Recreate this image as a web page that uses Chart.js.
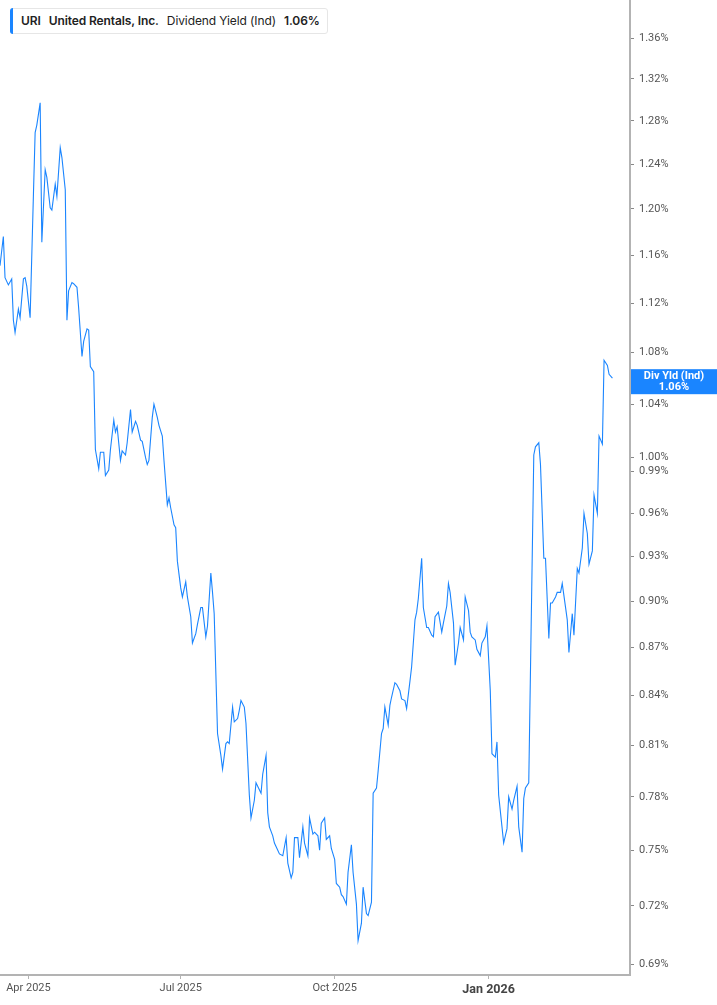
<!DOCTYPE html>
<html>
<head>
  <title>URI Dividend Yield</title>
  <script src="https://cdn.jsdelivr.net/npm/chart.js@4.4.0/dist/chart.umd.min.js"></script>
  <style>
    body { margin: 0; background: #fff; overflow: hidden; }
    #wrap { position: relative; width: 717px; height: 1005px; }
    .legend {
      position: absolute; left: 10px; top: 8px; height: 24px;
      padding: 0 7px 0 10px; border: 1px solid #e6e6e6; border-radius: 3px;
      font-family: Inter, "Liberation Sans", sans-serif; font-size: 12px; letter-spacing: -0.1px; color: #222;
      line-height: 24px; background: #fff; white-space: nowrap;
    }
    .legend:before {
      content: ""; position: absolute; left: -1px; top: -1px; bottom: -1px; width: 3px;
      background: #1a85ff; border-radius: 3px 0 0 3px;
    }
    .legend b { font-weight: 600; margin-right: 8px; }
    .legend span { margin-right: 8px; }
  </style>
</head>
<body>
<div id="wrap">
  <canvas id="yield" width="717" height="1005"></canvas>
  <div class="legend"><b>URI</b><b>United Rentals, Inc.</b><span>Dividend Yield (Ind)</span><b style="margin-right:0">1.06%</b></div>
</div>
<script>
  var dates = [
    '2025-03-15','2025-03-17','2025-03-18','2025-03-20','2025-03-22','2025-03-23','2025-03-24','2025-03-26','2025-03-27','2025-03-29','2025-03-30','2025-03-31',
    '2025-04-02','2025-04-04','2025-04-05','2025-04-06','2025-04-08','2025-04-09','2025-04-11','2025-04-12','2025-04-14','2025-04-15','2025-04-17','2025-04-18','2025-04-20','2025-04-21','2025-04-23','2025-04-24','2025-04-25','2025-04-27','2025-04-28','2025-04-30',
    '2025-05-01','2025-05-03','2025-05-04','2025-05-06','2025-05-07','2025-05-08','2025-05-10','2025-05-11','2025-05-13','2025-05-14','2025-05-16','2025-05-17','2025-05-19','2025-05-20','2025-05-22','2025-05-23','2025-05-24','2025-05-26','2025-05-27','2025-05-29','2025-05-30',
    '2025-06-01','2025-06-02','2025-06-04','2025-06-05','2025-06-07','2025-06-08','2025-06-10','2025-06-11','2025-06-12','2025-06-14','2025-06-15','2025-06-17','2025-06-18','2025-06-20','2025-06-21','2025-06-23','2025-06-24','2025-06-25','2025-06-27','2025-06-28','2025-06-29',
    '2025-07-01','2025-07-02','2025-07-04','2025-07-05','2025-07-07','2025-07-08','2025-07-10','2025-07-11','2025-07-13','2025-07-14','2025-07-16','2025-07-17','2025-07-19','2025-07-20','2025-07-21','2025-07-23','2025-07-25','2025-07-26','2025-07-28','2025-07-29','2025-07-30',
    '2025-08-01','2025-08-02','2025-08-04','2025-08-05','2025-08-06','2025-08-08','2025-08-09','2025-08-11','2025-08-12','2025-08-14','2025-08-15','2025-08-17','2025-08-18','2025-08-19','2025-08-21','2025-08-22','2025-08-23','2025-08-25','2025-08-26','2025-08-28','2025-08-29','2025-08-31',
    '2025-09-02','2025-09-03','2025-09-05','2025-09-06','2025-09-07','2025-09-09','2025-09-10','2025-09-12','2025-09-13','2025-09-15','2025-09-16','2025-09-18','2025-09-19','2025-09-21','2025-09-22','2025-09-23','2025-09-25','2025-09-26','2025-09-28','2025-09-29',
    '2025-10-01','2025-10-02','2025-10-04','2025-10-05','2025-10-06','2025-10-08','2025-10-09','2025-10-11','2025-10-12','2025-10-14','2025-10-15','2025-10-17','2025-10-18','2025-10-20','2025-10-21','2025-10-23','2025-10-24','2025-10-26','2025-10-27','2025-10-29','2025-10-30','2025-10-31',
    '2025-11-02','2025-11-03','2025-11-04','2025-11-06','2025-11-07','2025-11-09','2025-11-10','2025-11-12','2025-11-13','2025-11-15','2025-11-16','2025-11-18','2025-11-19','2025-11-20','2025-11-22','2025-11-23','2025-11-25','2025-11-26','2025-11-28','2025-11-29','2025-11-30',
    '2025-12-02','2025-12-04','2025-12-05','2025-12-07','2025-12-08','2025-12-09','2025-12-11','2025-12-12','2025-12-14','2025-12-15','2025-12-17','2025-12-18','2025-12-20','2025-12-21','2025-12-22','2025-12-24','2025-12-25','2025-12-27','2025-12-28','2025-12-30','2025-12-31',
    '2026-01-02','2026-01-03','2026-01-05','2026-01-06','2026-01-07','2026-01-09','2026-01-10','2026-01-12','2026-01-13','2026-01-15','2026-01-16','2026-01-18','2026-01-19','2026-01-21','2026-01-22','2026-01-23','2026-01-25','2026-01-28','2026-01-29','2026-01-31',
    '2026-02-01','2026-02-03','2026-02-04','2026-02-06','2026-02-07','2026-02-08','2026-02-10','2026-02-11','2026-02-13','2026-02-14','2026-02-16','2026-02-17','2026-02-18','2026-02-20','2026-02-21','2026-02-23','2026-02-24','2026-02-26','2026-02-27',
    '2026-03-01','2026-03-02','2026-03-04','2026-03-05','2026-03-07','2026-03-08','2026-03-10','2026-03-11','2026-03-13','2026-03-14','2026-03-16'
  ];

  // dividend yield (ind), percent
  var yields = [
    1.151,1.176,1.141,1.135,1.140,1.106,1.096,1.115,1.108,1.140,1.141,1.134,
    1.108,1.214,1.269,1.276,1.297,1.171,1.235,1.228,1.201,1.199,1.222,1.211,1.255,1.246,1.217,1.106,1.130,1.137,1.136,1.133,
    1.116,1.077,1.089,1.099,1.098,1.069,1.065,1.006,0.992,1.004,1.004,0.987,0.991,1.006,1.028,1.019,1.023,0.998,1.005,1.002,1.011,
    1.036,1.019,1.027,1.024,1.013,1.012,1.000,0.995,0.998,1.030,1.040,1.030,1.024,1.016,0.998,0.966,0.971,0.964,0.952,0.950,0.927,
    0.909,0.903,0.913,0.903,0.890,0.873,0.879,0.885,0.896,0.896,0.877,0.884,0.919,0.906,0.892,0.817,0.804,0.796,0.811,0.812,0.811,
    0.833,0.824,0.826,0.831,0.837,0.833,0.823,0.781,0.768,0.778,0.788,0.784,0.782,0.793,0.804,0.771,0.763,0.758,0.754,0.750,0.748,0.747,
    0.757,0.743,0.735,0.738,0.757,0.757,0.746,0.763,0.754,0.747,0.768,0.759,0.760,0.758,0.750,0.765,0.768,0.756,0.758,0.751,
    0.745,0.732,0.730,0.726,0.725,0.721,0.738,0.753,0.738,0.721,0.702,0.711,0.730,0.716,0.715,0.722,0.782,0.785,0.795,0.817,0.820,0.833,
    0.822,0.834,0.839,0.848,0.847,0.843,0.838,0.837,0.832,0.849,0.858,0.888,0.893,0.902,0.929,0.896,0.883,0.883,0.878,0.877,0.890,
    0.893,0.880,0.886,0.897,0.912,0.906,0.886,0.859,0.873,0.883,0.875,0.903,0.894,0.880,0.877,0.875,0.869,0.865,0.873,0.877,0.884,
    0.843,0.805,0.803,0.812,0.781,0.763,0.754,0.762,0.780,0.773,0.778,0.786,0.763,0.749,0.779,0.785,0.788,1.002,1.008,1.011,
    0.995,0.929,0.929,0.876,0.899,0.899,0.903,0.906,0.906,0.912,0.896,0.888,0.867,0.892,0.878,0.922,0.919,0.936,0.960,
    0.946,0.925,0.934,0.973,0.960,1.016,1.010,1.074,1.070,1.063,1.060
  ];

  var yTicks = [0.69,0.72,0.75,0.78,0.81,0.84,0.87,0.90,0.93,0.96,0.99,1.00,1.04,1.08,1.12,1.16,1.20,1.24,1.28,1.32,1.36];
  var xTickDates = ['2025-04-01','2025-07-01','2025-10-01','2026-01-01'];
  var xTickLabels = ['Apr 2025','Jul 2025','Oct 2025','Jan 2026'];

  var lineColor = '#1a85ff';
  var axisColor = '#b3b3b3';

  var points = dates.map((d, i) => ({ x: Date.parse(d), y: yields[i] }));

  // blue value tag on the right axis
  var lastTag = {
    id: 'lastTag',
    afterDraw(chart) {
      var meta = chart.getDatasetMeta(0);
      var pt = meta.data[meta.data.length - 1];
      var ctx = chart.ctx;
      var left = chart.chartArea.right + 1;
      var w = chart.width - left;
      var top = pt.y - 9;
      ctx.save();
      ctx.fillStyle = lineColor;
      ctx.fillRect(left, top, w, 25);
      ctx.fillStyle = '#fff';
      ctx.font = 'bold 11px Roboto, "Liberation Sans", sans-serif';
      ctx.textAlign = 'center';
      ctx.textBaseline = 'middle';
      ctx.fillText('Div Yld (Ind)', left + w / 2, top + 7.5);
      ctx.fillText(yields[yields.length - 1].toFixed(2) + '%', left + w / 2, top + 18);
      ctx.restore();
    }
  };

  new Chart(document.getElementById('yield').getContext('2d'), {
    type: 'line',
    data: {
      datasets: [{
        label: 'Dividend Yield (Ind)',
        data: points,
        borderColor: lineColor,
        borderWidth: 1.1,
        pointRadius: 0,
        tension: 0,
        fill: false
      }]
    },
    options: {
      responsive: false,
      animation: false,
      layout: { padding: 0 },
      plugins: { legend: { display: false }, tooltip: { enabled: false } },
      scales: {
        x: {
          type: 'linear',
          min: Date.parse('2025-03-15'),
          max: Date.parse('2026-03-26T12:00:00Z'),
          afterBuildTicks: s => { s.ticks = xTickDates.map(d => ({ value: Date.parse(d) })); },
          afterFit: s => { s.height = 30; s.paddingLeft = 0; s.paddingRight = 0; },
          border: { display: true, color: axisColor, width: 2 },
          grid: { drawOnChartArea: false, drawTicks: true, tickLength: 4, tickColor: axisColor },
          ticks: {
            autoSkip: false, maxRotation: 0, padding: 3,
            color: ctx => ctx.index === 3 ? '#444' : '#555',
            font: ctx => ctx.index === 3
              ? { family: 'Roboto', size: 12.5, weight: 'bold' }
              : { family: 'Roboto', size: 11 },
            callback: (v, i) => xTickLabels[i]
          }
        },
        y: {
          type: 'logarithmic',
          position: 'right',
          bounds: 'data',
          min: 0.6845,
          max: 1.3985,
          afterBuildTicks: s => {
            s.ticks = yTicks.map(v => ({ value: v }));
            s.min = 0.6845;
            s.max = 1.3985;
          },
          afterFit: s => { s.width = 87; s.paddingTop = 0; s.paddingBottom = 0; },
          border: { display: true, color: axisColor, width: 2 },
          grid: { drawOnChartArea: false, drawTicks: true, tickLength: 4, tickColor: '#888' },
          ticks: {
            padding: 5,
            color: '#555',
            font: { family: 'Roboto', size: 11 },
            callback: v => Number(v).toFixed(2) + '%'
          }
        }
      }
    },
    plugins: [lastTag]
  });
</script>
</body>
</html>
